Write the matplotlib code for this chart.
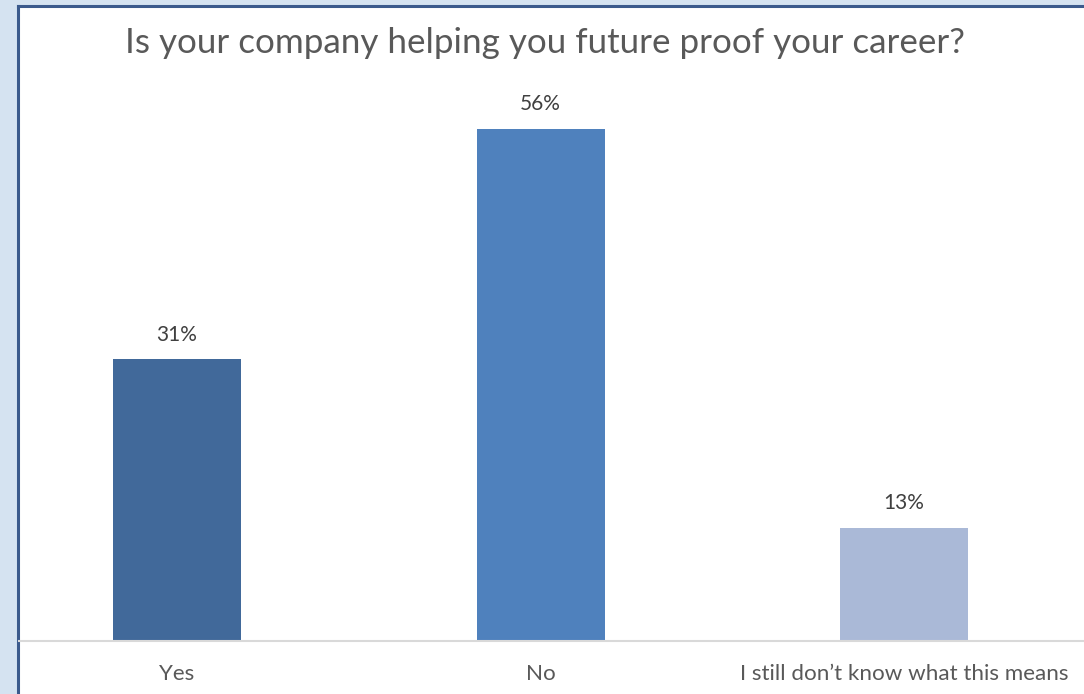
import matplotlib
matplotlib.use("Agg")
import matplotlib.pyplot as plt
from matplotlib.patches import Rectangle
from matplotlib.lines import Line2D

title = "Is your company helping you future proof your career?"
categories = ["Yes", "No", "I still don\u2019t know what this means"]
values = [30.8, 56.0, 12.4]
labels = ["31%", "56%", "13%"]
colors = ["#41699a", "#4f81bd", "#aab9d7"]

FONT = "Lato"
W, H = 1084, 694
fig = plt.figure(figsize=(W / 100, H / 100), dpi=100)
fig.patch.set_facecolor("#d5e3f1")

px = lambda x: x / W
py = lambda y: 1 - y / H
panel = Rectangle((px(18), 0), 1 - px(18), py(6), transform=fig.transFigure,
                  facecolor="white", edgecolor="none", zorder=0)
fig.add_artist(panel)
fig.add_artist(Line2D([px(18), px(18)], [0, py(6)], transform=fig.transFigure,
                      color="#3b5a8c", lw=2.2, zorder=1))
fig.add_artist(Line2D([px(18), 1], [py(6), py(6)], transform=fig.transFigure,
                      color="#3b5a8c", lw=2.2, zorder=1))

left_px, right_px = 19, 1084
base_px, top_px = 641, 90
ax = fig.add_axes([px(left_px), 1 - base_px / H, 1 - px(left_px), (base_px - top_px) / H])
ax.set_facecolor("none")
ax.set_zorder(2)

unit = (904 - 177) / 2.0
ppp = (641 - 128.5) / 56.0
ax.set_xlim((left_px - 177) / unit, (right_px - 177) / unit)
ax.set_ylim(0, (base_px - top_px) / ppp)

x = list(range(len(categories)))
ax.bar(x, values, width=128 / unit, color=colors, zorder=2)
for xi, v, lab in zip(x, values, labels):
    ax.text(xi, v + 18.5 / ppp, lab, ha="center", va="baseline",
            fontsize=15, color="#404040", family=FONT)

for s in ["top", "right", "left"]:
    ax.spines[s].set_visible(False)
ax.spines["bottom"].set_color("#d9d9d9")
ax.spines["bottom"].set_linewidth(1.5)
ax.set_yticks([])
ax.set_xticks(x)
ax.set_xticklabels(categories, fontsize=16.1, color="#595959", family=FONT,
                   va="baseline")
ax.tick_params(axis="x", length=0, pad=28)

fig.text(px(544.5), py(53), title, ha="center", va="baseline", fontsize=25.2,
         color="#595959", family=FONT)

fig.savefig("out.png", dpi=100)
